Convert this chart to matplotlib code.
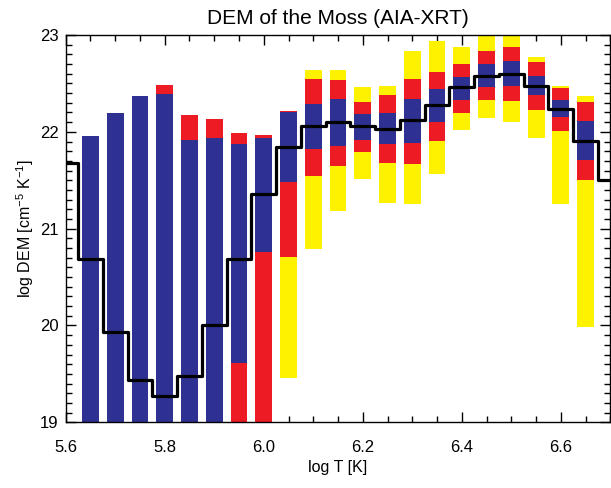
import matplotlib
matplotlib.use("Agg")
import matplotlib.pyplot as plt
from matplotlib.ticker import MultipleLocator
import numpy as np

plt.rcParams['font.family'] = ['Liberation Sans', 'DejaVu Sans']
plt.rcParams['mathtext.fontset'] = 'custom'
plt.rcParams['mathtext.rm'] = 'Liberation Sans'
plt.rcParams['mathtext.it'] = 'Liberation Sans:italic'

# Bar temperatures (log T)
t_bar = [5.65, 5.70, 5.75, 5.80, 5.85, 5.90, 5.95, 6.00, 6.05, 6.10, 6.15,
         6.20, 6.25, 6.30, 6.35, 6.40, 6.45, 6.50, 6.55, 6.60, 6.65]

# Yellow (outer) range
yellow_lo = [18.5, 18.5, 18.5, 18.5, 18.5, 18.5, 18.5, 18.5, 19.46, 20.79, 21.18,
             21.51, 21.27, 21.26, 21.565, 22.02, 22.14, 22.10, 21.94, 21.25, 19.98]
yellow_hi = [21.96, 22.19, 22.375, 22.48, 22.17, 22.13, 21.99, 21.97, 22.22, 22.64, 22.64,
             22.46, 22.47, 22.83, 22.94, 22.875, 23.2, 23.2, 22.77, 22.47, 22.37]

# Red (middle) range
red_lo = [18.5, 18.5, 18.5, 18.5, 18.5, 18.5, 18.5, 18.5, 20.71, 21.54, 21.65,
          21.79, 21.675, 21.67, 21.91, 22.19, 22.33, 22.32, 22.23, 22.01, 21.50]
red_hi = [21.96, 22.19, 22.375, 22.48, 22.17, 22.13, 21.99, 21.97, 22.22, 22.55, 22.54,
          22.31, 22.38, 22.55, 22.62, 22.70, 22.83, 22.875, 22.72, 22.45, 22.31]

# Blue (inner) range
blue_lo = [18.5, 18.5, 18.5, 18.5, 18.5, 18.5, 19.61, 20.76, 21.48, 21.82, 21.85,
           21.92, 21.87, 21.89, 22.10, 22.33, 22.46, 22.47, 22.38, 22.15, 21.71]
blue_hi = [21.96, 22.19, 22.375, 22.39, 21.92, 21.94, 21.87, 21.94, 22.20, 22.29, 22.34,
           22.185, 22.19, 22.34, 22.44, 22.565, 22.70, 22.73, 22.58, 22.33, 22.11]

# Best-fit DEM (black histogram)
t_line = [5.60, 5.65, 5.70, 5.75, 5.80, 5.85, 5.90, 5.95, 6.00, 6.05, 6.10, 6.15,
          6.20, 6.25, 6.30, 6.35, 6.40, 6.45, 6.50, 6.55, 6.60, 6.65, 6.70]
dem_line = [21.68, 20.69, 19.93, 19.44, 19.27, 19.48, 20.01, 20.69, 21.36, 21.84,
            22.065, 22.10, 22.06, 22.03, 22.12, 22.275, 22.46, 22.58, 22.60, 22.47,
            22.24, 21.91, 21.50]

fig = plt.figure(figsize=(6.11, 4.88), dpi=100)
ax = fig.add_axes([0.1075, 0.1346, 0.8915, 0.7936])

w = 0.034
t = np.array(t_bar)
for lo, hi, col in [(yellow_lo, yellow_hi, '#FFF200'),
                    (red_lo, red_hi, '#ED1C24'),
                    (blue_lo, blue_hi, '#2E3192')]:
    lo = np.array(lo); hi = np.array(hi)
    ax.bar(t, hi - lo, bottom=lo, width=w, color=col, edgecolor='none', zorder=2)

ax.step(t_line, dem_line, where='mid', color='black', lw=2.3, zorder=3)

ax.set_xlim(5.6, 6.7)
ax.set_ylim(19, 23)
ax.xaxis.set_major_locator(MultipleLocator(0.2))
ax.xaxis.set_minor_locator(MultipleLocator(0.05))
ax.yaxis.set_major_locator(MultipleLocator(1))
ax.yaxis.set_minor_locator(MultipleLocator(0.1))
ax.tick_params(which='both', direction='in', top=True, right=True, width=1.0,
               labelsize=12, colors='black')
ax.tick_params(which='major', length=7.5)
ax.tick_params(which='minor', length=4)
ax.tick_params(axis='x', which='major', pad=13)
ax.tick_params(axis='y', which='major', pad=5)
ax.set_xticks([5.6, 5.8, 6.0, 6.2, 6.4, 6.6])
ax.set_xticklabels(['5.6', '5.8', '6.0', '6.2', '6.4', '6.6'])
for s in ax.spines.values():
    s.set_linewidth(1.0)

ax.set_title('DEM of the Moss (AIA-XRT)', fontsize=15, pad=8)
ax.set_xlabel('log T [K]', fontsize=11.5, labelpad=3)
ax.set_ylabel('log DEM [cm$^{-5}$ K$^{-1}$]', fontsize=11.5, labelpad=3)

fig.savefig('out.png', dpi=100)
